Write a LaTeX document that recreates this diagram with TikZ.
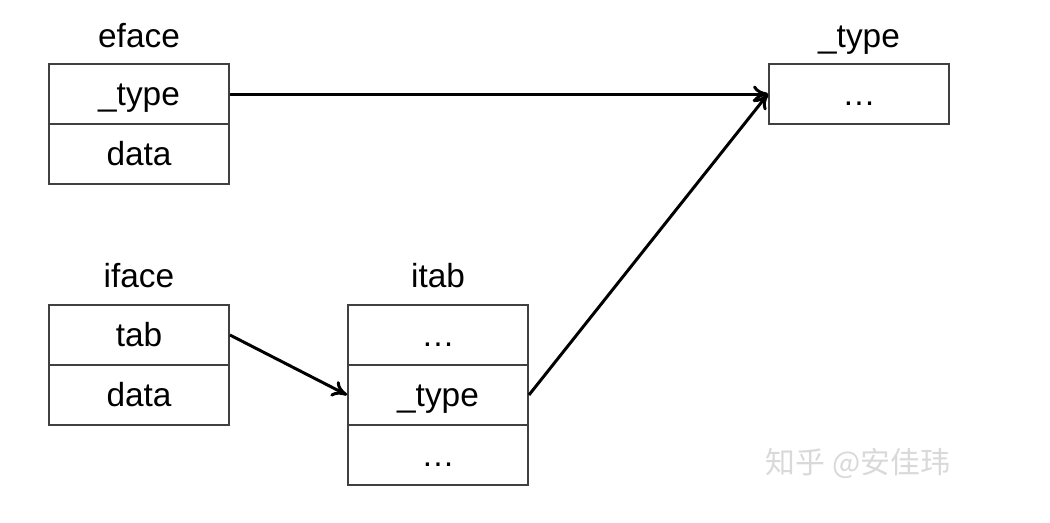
\documentclass[tikz,border=0pt]{standalone}
\usepackage{fontspec}
\setmainfont{Liberation Sans}
\newfontfamily\cjkfont{Noto Sans CJK SC}
\usetikzlibrary{arrows,arrows.meta,positioning}

\begin{document}
\begin{tikzpicture}[x=0.02cm, y=-0.02cm, >={To[length=3mm,width=3.4mm]},
    field/.style={rectangle, draw=black!75, line width=1.1pt, fill=white,
                  minimum width=3.6cm, minimum height=1.2cm, inner sep=0pt,
                  text height=13pt, text depth=0pt,
                  font=\fontsize{19}{22}\selectfont},
    title/.style={anchor=base, font=\fontsize{19}{22}\selectfont},
    link/.style={->, line width=1.7pt}]
    \useasboundingbox (0,0) rectangle (1050,522);

    % eface
    \node[title] (eface) at (139,47) {eface};
    \node[field] (e1) at (139,94) {\_type};
    \node[field] (e2) at (139,154) {data};

    % iface
    \node[title] (iface) at (139,287) {iface};
    \node[field] (i1) at (139,335) {tab};
    \node[field] (i2) at (139,395) {data};

    % itab
    \node[title] (itab) at (438,287) {itab};
    \node[field] (a1) at (438,335) {…};
    \node[field] (a2) at (438,395) {\_type};
    \node[field] (a3) at (438,455) {…};

    % _type
    \node[title] (type) at (859,47) {\_type};
    \node[field] (t1) at (859,94) {…};

    % Links
    \draw[link] (e1.east) -- (t1.west);
    \draw[link] (i1.east) -- (a2.west);
    \draw[link] (a2.east) -- (t1.west);

    % Watermark
    \node[font=\cjkfont\fontsize{17}{20}\selectfont, text=black!15] (mark) at (858,463) {知乎 @安佳玮};
\end{tikzpicture}
\end{document}
